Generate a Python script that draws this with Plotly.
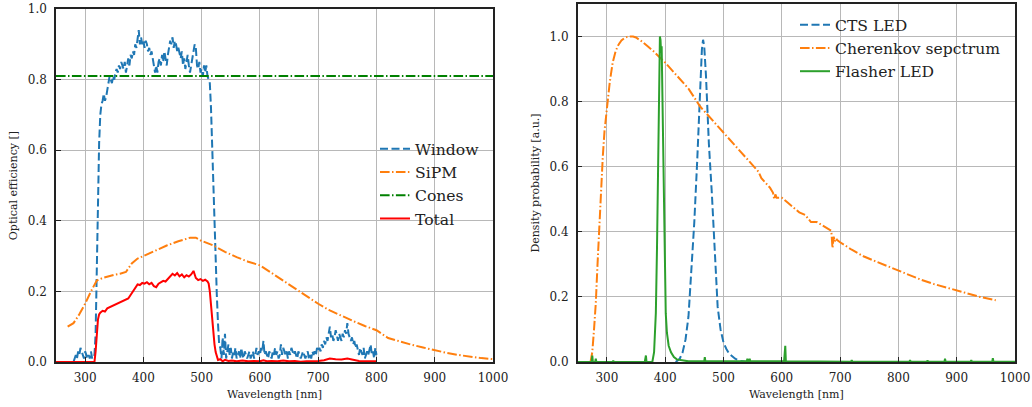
import plotly.graph_objects as go

# ---------------- Left panel data ----------------
window_wl = list(range(280, 801, 2))
window_eff = [
    # 280-314
    0.00, 0.01, 0.02, 0.01, 0.03, 0.02, 0.04, 0.03, 0.02, 0.01, 0.03, 0.02, 0.01, 0.02, 0.01, 0.03, 0.01, 0.02,
    # 316-530
    0.02, 0.08, 0.30, 0.50, 0.62, 0.70, 0.73, 0.74, 0.76, 0.74,
    0.75, 0.77, 0.79, 0.81, 0.80, 0.79, 0.81, 0.80, 0.82, 0.83,
    0.82, 0.84, 0.83, 0.85, 0.84, 0.83, 0.85, 0.82, 0.84, 0.86,
    0.84, 0.87, 0.86, 0.88, 0.87, 0.90, 0.89, 0.91, 0.94, 0.90,
    0.92, 0.90, 0.91, 0.89, 0.91, 0.90, 0.88, 0.89, 0.87, 0.88,
    0.86, 0.84, 0.82, 0.84, 0.82, 0.85, 0.86, 0.84, 0.87, 0.85,
    0.88, 0.86, 0.84, 0.87, 0.89, 0.91, 0.90, 0.92, 0.89, 0.91,
    0.90, 0.88, 0.89, 0.87, 0.86, 0.88, 0.84, 0.86, 0.83, 0.85,
    0.87, 0.84, 0.82, 0.84, 0.86, 0.88, 0.90, 0.89, 0.84, 0.83,
    0.85, 0.82, 0.83, 0.81, 0.84, 0.82, 0.84, 0.81, 0.80, 0.79,
    0.72, 0.60, 0.48, 0.38, 0.28, 0.19, 0.11, 0.05,
    # 532-700
    0.04, 0.01, 0.07, 0.02, 0.08, 0.01, 0.03, 0.05, 0.02, 0.04,
    0.01, 0.03, 0.02, 0.04, 0.01, 0.02, 0.03, 0.01, 0.04, 0.02,
    0.01, 0.03, 0.02, 0.01, 0.02, 0.03, 0.01, 0.02, 0.03, 0.01,
    0.02, 0.04, 0.02, 0.03, 0.02, 0.04, 0.03, 0.06, 0.02, 0.03,
    0.02, 0.01, 0.03, 0.02, 0.01, 0.03, 0.02, 0.04, 0.02, 0.03,
    0.01, 0.02, 0.05, 0.02, 0.04, 0.03, 0.02, 0.03, 0.01, 0.03,
    0.02, 0.04, 0.03, 0.02, 0.03, 0.02, 0.01, 0.03, 0.02, 0.01,
    0.02, 0.03, 0.02, 0.01, 0.02, 0.03, 0.01, 0.02, 0.01, 0.03,
    0.02, 0.03, 0.02, 0.04, 0.03,
    # 702-800
    0.04, 0.03, 0.05, 0.04, 0.06, 0.05, 0.07, 0.06, 0.08, 0.10,
    0.07, 0.08, 0.06, 0.07, 0.09, 0.07, 0.06, 0.08, 0.07, 0.06,
    0.08, 0.07, 0.09, 0.08, 0.11, 0.08, 0.07, 0.06, 0.07, 0.05,
    0.06, 0.04, 0.05, 0.03, 0.02, 0.04, 0.03, 0.02, 0.04, 0.01,
    0.02, 0.03, 0.02, 0.04, 0.05, 0.02, 0.03, 0.01, 0.04, 0.02,
]
assert len(window_wl) == len(window_eff)

sipm_wl = [270, 280, 290, 300, 310, 320, 330, 340, 350, 360, 370, 380, 390, 400, 420, 440, 460, 480,
           490, 500, 520, 540, 560, 580, 600, 620, 640, 660, 680, 700, 720, 740, 760, 780, 800,
           820, 840, 860, 880, 900, 920, 940, 960, 980, 1000]
sipm_eff = [0.100, 0.110, 0.135, 0.165, 0.200, 0.231, 0.238, 0.243, 0.247, 0.250, 0.255, 0.279, 0.293, 0.300,
            0.315, 0.330, 0.342, 0.352, 0.352, 0.343, 0.330, 0.312, 0.297, 0.284, 0.274, 0.252, 0.231,
            0.210, 0.188, 0.165, 0.146, 0.130, 0.116, 0.102, 0.090, 0.068, 0.058, 0.049, 0.041, 0.033,
            0.026, 0.020, 0.015, 0.011, 0.008]

cones_wl = [250, 1000]
cones_eff = [0.81, 0.81]

total_wl = [250, 316, 318, 320, 322, 324, 326, 330, 334, 338, 342, 346, 350, 354, 358, 362, 366, 370, 374,
            378, 382, 386, 390, 394, 398, 402, 406, 410, 414, 418, 422, 426, 430, 434, 438, 442, 446,
            450, 454, 458, 462, 466, 470, 474, 478, 482, 486, 488, 490, 494, 498, 502, 506, 510, 512,
            514, 516, 518, 520, 522, 524, 526, 528, 532, 536, 540, 546, 552, 560, 570, 580, 590, 600,
            606, 612, 620, 630, 640, 650, 660, 670, 680, 690, 700, 710, 720, 730, 740, 750, 760, 770,
            780, 790, 800]
total_eff = [0.0, 0.0, 0.03, 0.08, 0.12, 0.135, 0.14, 0.145, 0.143, 0.152, 0.155, 0.158, 0.16, 0.163,
             0.168, 0.17, 0.172, 0.175, 0.18, 0.19, 0.20, 0.212, 0.22, 0.218, 0.224, 0.222, 0.226, 0.22,
             0.224, 0.215, 0.212, 0.222, 0.226, 0.23, 0.228, 0.236, 0.243, 0.25, 0.245, 0.252, 0.243,
             0.248, 0.24, 0.246, 0.242, 0.248, 0.258, 0.25, 0.238, 0.232, 0.235, 0.23, 0.233, 0.228,
             0.222, 0.20, 0.16, 0.12, 0.08, 0.05, 0.028, 0.014, 0.006, 0.008, 0.002, 0.006, 0.003,
             0.004, 0.002, 0.004, 0.002, 0.003, 0.002, 0.005, 0.002, 0.003, 0.002, 0.004, 0.002, 0.003,
             0.001, 0.002, 0.002, 0.003, 0.005, 0.01, 0.008, 0.007, 0.01, 0.006, 0.003, 0.002, 0.003,
             0.002]
assert len(total_wl) == len(total_eff)

# ---------------- Right panel data ----------------
cts_wl = [418, 425, 430, 435, 440, 445, 450, 455, 460, 463, 465, 467, 470, 475, 480, 485, 490, 495,
          500, 505, 510, 520, 530, 540]
cts_val = [0.0, 0.01, 0.03, 0.07, 0.14, 0.27, 0.43, 0.62, 0.85, 0.96, 0.99, 0.97, 0.88, 0.67, 0.52,
           0.32, 0.17, 0.10, 0.06, 0.04, 0.025, 0.01, 0.003, 0.0]

cher_wl = [272, 275, 278, 281, 284, 287, 290, 293, 296, 300, 305, 310, 315, 320, 325, 330, 335, 340,
           345, 350, 360, 370, 380, 390, 400, 420, 440, 460, 480, 500, 520, 540, 560, 565, 570, 580,
           585, 587, 589, 591, 595, 600, 610, 620, 630, 640, 645, 650, 660, 670, 680, 685, 687, 689,
           691, 693, 695, 700, 720, 740, 760, 780, 800, 820, 840, 860, 880, 900, 920, 940, 967]
cher_val = [0.0, 0.03, 0.10, 0.18, 0.30, 0.42, 0.53, 0.63, 0.71, 0.78, 0.86, 0.92, 0.955, 0.975, 0.988,
            0.995, 0.999, 1.0, 1.0, 0.997, 0.985, 0.97, 0.955, 0.937, 0.92, 0.88, 0.84, 0.785, 0.745,
            0.705, 0.665, 0.625, 0.585, 0.565, 0.555, 0.535, 0.52, 0.50, 0.515, 0.505, 0.505, 0.505,
            0.49, 0.475, 0.46, 0.452, 0.44, 0.43, 0.43, 0.42, 0.41, 0.403, 0.35, 0.385, 0.37, 0.38,
            0.375, 0.368, 0.345, 0.325, 0.31, 0.295, 0.28, 0.265, 0.252, 0.24, 0.23, 0.22, 0.21, 0.20,
            0.19]
assert len(cher_wl) == len(cher_val)

flash_wl = [250, 274, 275, 276, 280, 281, 282, 310, 311, 312, 365, 366, 367, 368, 378, 381, 384, 386,
            388, 390, 391, 392, 393, 394, 395, 397, 399, 401, 403, 406, 410, 415, 420, 430, 440, 467,
            468, 469, 500, 540, 541, 542, 544, 545, 546, 570, 600, 604, 605, 606, 607, 650, 700, 719,
            720, 721, 800, 819, 820, 821, 849, 850, 851, 879, 880, 881, 924, 925, 926, 961, 962, 963,
            1000]
flash_val = [0.0, 0.0, 0.02, 0.0, 0.0, 0.01, 0.0, 0.0, 0.004, 0.0, 0.0, 0.02, 0.02, 0.0, 0.0, 0.03,
             0.15, 0.35, 0.65, 0.92, 1.0, 0.99, 0.95, 0.97, 0.86, 0.55, 0.30, 0.15, 0.09, 0.05, 0.03,
             0.015, 0.008, 0.004, 0.002, 0.002, 0.015, 0.002, 0.002, 0.002, 0.01, 0.002, 0.002, 0.01,
             0.002, 0.003, 0.002, 0.002, 0.05, 0.05, 0.002, 0.002, 0.001, 0.001, 0.006, 0.001, 0.001,
             0.001, 0.006, 0.001, 0.001, 0.005, 0.001, 0.001, 0.01, 0.001, 0.001, 0.006, 0.001, 0.001,
             0.012, 0.001, 0.001]
assert len(flash_wl) == len(flash_val)

x_ticks = [300, 400, 500, 600, 700, 800, 900, 1000]

# ---------------- Styles ----------------
BLUE = "#1f77b4"
ORANGE = "#ff7f0e"
DGREEN = "#008000"
GREEN = "#2ca02c"
RED = "#ff0000"
DASH = "8px,3.5px"
DASHDOT = "9.6px,2.4px,1.5px,2.4px"
FONT = "DejaVu Serif"

fig = go.Figure()

fig.add_trace(go.Scatter(x=window_wl, y=window_eff, mode="lines", name="Window",
                         line=dict(color=BLUE, width=2, dash=DASH),
                         xaxis="x", yaxis="y", legend="legend", legendgroup="a"))
fig.add_trace(go.Scatter(x=sipm_wl, y=sipm_eff, mode="lines", name="SiPM",
                         line=dict(color=ORANGE, width=2, dash=DASHDOT),
                         xaxis="x", yaxis="y", legend="legend", legendgroup="b"))
fig.add_trace(go.Scatter(x=cones_wl, y=cones_eff, mode="lines", name="Cones",
                         line=dict(color=DGREEN, width=2, dash=DASHDOT),
                         xaxis="x", yaxis="y", legend="legend", legendgroup="c"))
fig.add_trace(go.Scatter(x=total_wl, y=total_eff, mode="lines", name="Total",
                         line=dict(color=RED, width=2),
                         xaxis="x", yaxis="y", legend="legend", legendgroup="d"))

fig.add_trace(go.Scatter(x=cts_wl, y=cts_val, mode="lines", name="CTS LED",
                         line=dict(color=BLUE, width=2, dash=DASH),
                         xaxis="x2", yaxis="y2", legend="legend2", legendgroup="e"))
fig.add_trace(go.Scatter(x=cher_wl, y=cher_val, mode="lines", name="Cherenkov sepctrum",
                         line=dict(color=ORANGE, width=2, dash=DASHDOT),
                         xaxis="x2", yaxis="y2", legend="legend2", legendgroup="f"))
fig.add_trace(go.Scatter(x=flash_wl, y=flash_val, mode="lines", name="Flasher LED",
                         line=dict(color=GREEN, width=2),
                         xaxis="x2", yaxis="y2", legend="legend2", legendgroup="g"))

W, H = 1032, 407


def xdom(a, b):
    return [a / W, b / W]


def ydom(top, bottom):
    return [1 - bottom / H, 1 - top / H]


axis_common = dict(
    showline=True, linecolor="#222222", linewidth=1.5, mirror=True,
    ticks="inside", ticklen=5, tickwidth=1.2, tickcolor="#222222",
    showgrid=True, gridcolor="#b8b8b8", gridwidth=1,
    zeroline=False, automargin=False,
    tickfont=dict(family=FONT, size=12, color="#222222"),
    title_font=dict(family=FONT, size=11, color="#222222"),
)

fig.update_layout(
    width=W, height=H,
    margin=dict(l=0, r=0, t=0, b=0),
    paper_bgcolor="white", plot_bgcolor="white",
    font=dict(family=FONT, color="#222222"),
    xaxis=dict(domain=xdom(56, 493), range=[250, 1000], tickvals=x_ticks,
               title=dict(text="Wavelength [nm]", standoff=6), anchor="y",
               ticklabelstandoff=4, **axis_common),
    yaxis=dict(domain=ydom(9, 362), range=[0, 1.0], dtick=0.2, tickformat=".1f",
               title=dict(text="Optical efficiency []", standoff=8), anchor="x",
               ticklabelstandoff=5, **axis_common),
    xaxis2=dict(domain=xdom(577.7, 1015), range=[250, 1000], tickvals=x_ticks,
                title=dict(text="Wavelength [nm]", standoff=6), anchor="y2",
                ticklabelstandoff=4, **axis_common),
    yaxis2=dict(domain=ydom(4, 362), range=[0, 1.1], tickvals=[0, 0.2, 0.4, 0.6, 0.8, 1.0],
                tickformat=".1f",
                title=dict(text="Density probability [a.u.]", standoff=8), anchor="x2",
                ticklabelstandoff=5, **axis_common),
    legend=dict(x=(415 - 40) / W, y=1 - 132 / H, xanchor="left", yanchor="top",
                bgcolor="rgba(0,0,0,0)", font=dict(family=FONT, size=15.6, color="#222222"),
                tracegroupgap=0, itemwidth=30),
    legend2=dict(x=(835 - 40) / W, y=1 - 8 / H, xanchor="left", yanchor="top",
                 bgcolor="rgba(0,0,0,0)", font=dict(family=FONT, size=15.6, color="#222222"),
                 tracegroupgap=0, itemwidth=30),
    showlegend=True,
)

fig.write_html("out.html", config={"displayModeBar": False},
               post_script="document.body.style.margin='0px';document.body.style.overflow='hidden';")
